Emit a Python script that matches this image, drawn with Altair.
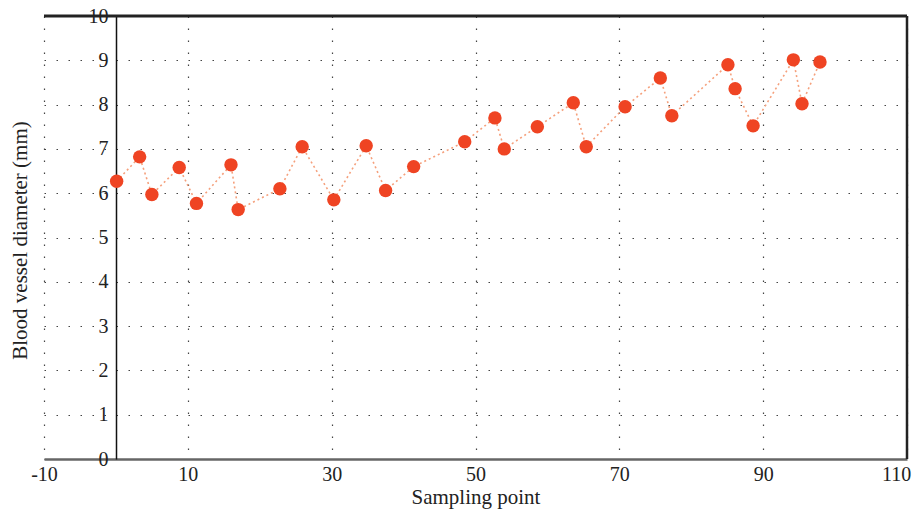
import altair as alt
import pandas as pd

# Data
sample_x = [0.1, 3.3, 5.0, 8.8, 11.2, 16.0, 17.0, 22.8, 25.9, 30.3, 34.8, 37.5, 41.4,
            48.5, 52.7, 54.0, 58.6, 63.6, 65.4, 70.8, 75.7, 77.3, 85.1, 86.1, 88.6,
            94.2, 95.4, 97.9]
diameter = [6.27, 6.82, 5.97, 6.58, 5.77, 6.64, 5.63, 6.10, 7.05, 5.85, 7.07, 6.06, 6.60,
            7.16, 7.70, 7.00, 7.50, 8.04, 7.05, 7.95, 8.60, 7.75, 8.90, 8.36, 7.52,
            9.01, 8.02, 8.96]
x_ticks = [-10, 10, 30, 50, 70, 90, 110]
y_ticks = [0, 1, 2, 3, 4, 5, 6, 7, 8, 9, 10]

W, H = 863, 443
FONT = "Liberation Serif"
LABEL_SIZE = 20
TITLE_SIZE = 21

df = pd.DataFrame({"x": sample_x, "y": diameter})

x_enc = alt.X(
    "x:Q",
    scale=alt.Scale(domain=[-10, 110], nice=False, zero=False),
    axis=alt.Axis(
        values=x_ticks, title="Sampling point", grid=True,
        gridDash=[1.5, 10.5], gridColor="#444", gridWidth=1.2,
        domainColor="#666", domainWidth=2.5, ticks=False,
        labelPadding=5, labelFontSize=LABEL_SIZE, labelFont=FONT, labelColor="#222",
        labelOverlap=False, labelFlush=False, labelExpr="datum.value + ''",
        labelOffset={"condition": {"test": "datum.value == 110", "value": -11}, "value": 0},
        titleFont=FONT, titleFontSize=TITLE_SIZE, titleFontWeight="normal", titleColor="#222",
        titlePadding=2,
    ),
)
y_enc = alt.Y(
    "y:Q",
    scale=alt.Scale(domain=[0, 10], nice=False),
    axis=alt.Axis(
        values=y_ticks, title="Blood vessel diameter (mm)", grid=True,
        gridDash=[1.5, 10.5], gridColor="#444", gridWidth=1.2,
        offset=-72, domainColor="#111", domainWidth=1.5, ticks=False,
        labelPadding=8, labelFontSize=LABEL_SIZE, labelFont=FONT, labelColor="#222",
        labelOverlap=False, labelFlush=False,
        titleFont=FONT, titleFontSize=TITLE_SIZE, titleFontWeight="normal", titleColor="#222",
        titleX=-96, titleY=224, titleAlign="center", titleBaseline="middle",
    ),
)

line = alt.Chart(df).mark_line(color="#F5A07C", strokeDash=[2, 3], strokeWidth=1.6).encode(
    x=x_enc, y=y_enc
)
points = alt.Chart(df).mark_circle(color="#EF4423", opacity=1, size=180).encode(
    x="x:Q", y="y:Q"
)

frame_df = pd.DataFrame({"k": [0]})
top_border = alt.Chart(frame_df).mark_rule(color="#222", strokeWidth=3).encode(
    x=alt.value(0), x2=alt.value(W), y=alt.value(0)
)
right_border = alt.Chart(frame_df).mark_rule(color="#222", strokeWidth=2.5).encode(
    x=alt.value(W), y=alt.value(0), y2=alt.value(H)
)

chart = alt.layer(line, points, top_border, right_border).properties(
    width=W, height=H,
    autosize=alt.AutoSizeParams(type="none"),
    padding={"left": 36, "top": 8, "right": 5, "bottom": 53},
).configure_view(stroke=None)

chart.save("out.html", embed_options={"renderer": "svg", "actions": False})
